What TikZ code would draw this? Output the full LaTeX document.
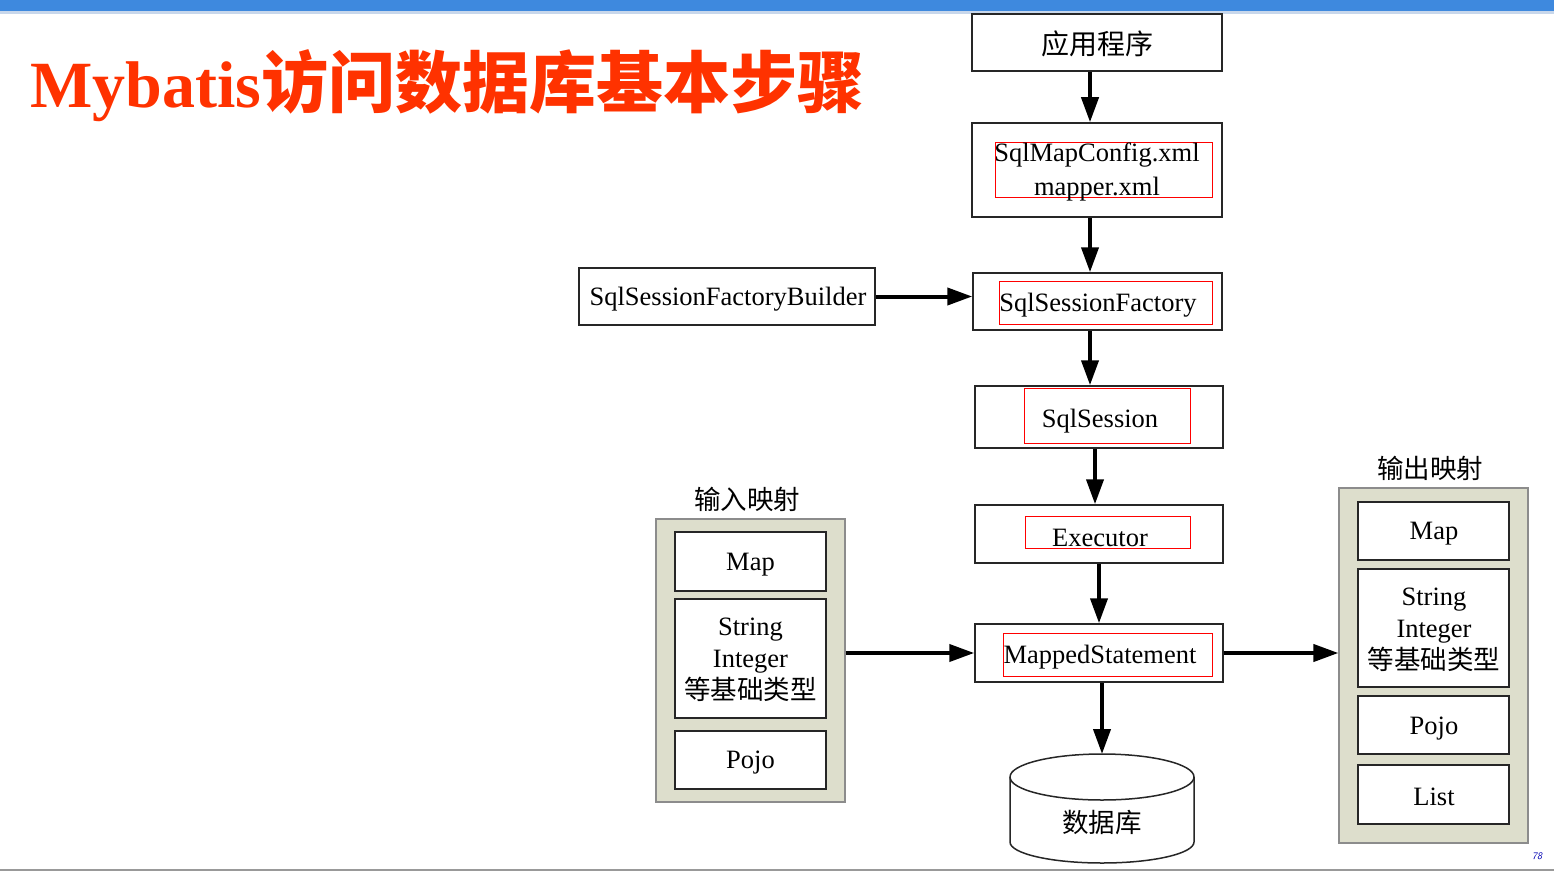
\documentclass[tikz,border=0pt]{standalone}
\usepackage{fontspec}
\setmainfont{Liberation Serif}
\newfontfamily\cjk{Noto Sans CJK SC}
\usetikzlibrary{arrows.meta}
\definecolor{panel}{RGB}{221,222,204}
\definecolor{titlered}{RGB}{255,50,0}
\definecolor{barblue}{RGB}{62,137,222}
\definecolor{barlight}{RGB}{200,215,235}
\begin{document}
\begin{tikzpicture}[x=1pt,y=-1pt,
 box/.style={draw=black!85,line width=1.5pt,fill=white,inner sep=0pt},
 redbox/.style={draw=red,line width=0.9pt},
 lab/.style={font=\fontsize{26.5}{33}\selectfont,align=center,inner sep=0pt},
 panelbox/.style={draw=black!45,line width=1.2pt,fill=panel,inner sep=0pt},
 arr/.style={line width=4pt,-{Triangle[length=25pt,width=17pt]}},
]
\useasboundingbox (0,0) rectangle (1554,872);
% top bar
\fill[barblue] (0,0) rectangle (1554,11);
\fill[barlight] (0,11) rectangle (1554,14);
% bottom line
\draw[black!40,line width=1.5pt] (0,870) -- (1554,870);
% title
\node[anchor=base west,inner sep=0pt,text=titlered] (title) at (30,108)
 {\fontsize{66}{70}\selectfont\bfseries Mybatis{\cjk\fontsize{67}{70}\selectfont 访问数据库基本步骤}};

% main column
\node[box,minimum width=250pt,minimum height=57pt] (app) at (1097,42.5) {};
\node[lab] (appt) at (1097,44) {\fontsize{28}{32}\selectfont\cjk 应用程序};

\node[box,minimum width=250pt,minimum height=94pt] (cfg) at (1097,170) {};
\draw[redbox] (995,142) rectangle (1212,197);
\node[lab,font=\fontsize{26.5}{34}\selectfont] (cfgt) at (1097,172) {SqlMapConfig.xml\\mapper.xml};

\node[box,minimum width=296pt,minimum height=57pt] (builder) at (727,296.5) {};
\node[lab] (buildert) at (728,299) {SqlSessionFactoryBuilder};

\node[box,minimum width=249pt,minimum height=57pt] (factory) at (1097.5,301.5) {};
\draw[redbox] (999,281) rectangle (1212,324);
\node[lab] (factoryt) at (1098,305) {SqlSessionFactory};

\node[box,minimum width=248pt,minimum height=62pt] (session) at (1099,417) {};
\draw[redbox] (1024,388) rectangle (1190,443);
\node[lab] (sessiont) at (1100,421) {SqlSession};

\node[box,minimum width=248pt,minimum height=58pt] (exec) at (1099,534) {};
\draw[redbox] (1025,516) rectangle (1190,548);
\node[lab] (exect) at (1100,538) {Executor};

\node[box,minimum width=248pt,minimum height=58pt] (ms) at (1099,653) {};
\draw[redbox] (1003,633) rectangle (1212,676);
\node[lab] (mst) at (1100,657) {MappedStatement};

% database cylinder
\draw[line width=1.5pt,draw=black!85,fill=white] (1010,777) -- (1010,842)
  arc[start angle=180,end angle=360,x radius=92pt,y radius=21pt] -- (1194,777);
\draw[line width=1.5pt,draw=black!85,fill=white] (1102,777) ellipse[x radius=92pt,y radius=23pt];
\coordinate (dbtop) at (1102,754);
\node[lab] (db) at (1102,822) {\cjk 数据库};

% input panel
\node[panelbox,minimum width=189pt,minimum height=283pt] (inpanel) at (750.5,660.5) {};
\node[lab] (inlab) at (747,499) {\cjk 输入映射};
\node[box,minimum width=151pt,minimum height=59pt] (inmap) at (750.5,561.5) {};
\node[lab] (inmapt) at (750.5,565) {Map};
\node[box,minimum width=151pt,minimum height=119pt] (inbase) at (750.5,658.5) {};
\node[lab,font=\fontsize{26.5}{32}\selectfont] (inbaset) at (750.5,660) {String\\Integer\\{\cjk 等基础类型}};
\node[box,minimum width=151pt,minimum height=58pt] (inpojo) at (750.5,760) {};
\node[lab] (inpojot) at (750.5,763) {Pojo};

% output panel
\node[panelbox,minimum width=189pt,minimum height=355pt] (outpanel) at (1433.5,665.5) {};
\node[lab] (outlab) at (1430,468) {\cjk 输出映射};
\node[box,minimum width=151pt,minimum height=58pt] (outmap) at (1433.5,531) {};
\node[lab] (outmapt) at (1434,534) {Map};
\node[box,minimum width=151pt,minimum height=118pt] (outbase) at (1433.5,628) {};
\node[lab,font=\fontsize{26.5}{32}\selectfont] (outbaset) at (1434,630) {String\\Integer\\{\cjk 等基础类型}};
\node[box,minimum width=151pt,minimum height=58pt] (outpojo) at (1433.5,725) {};
\node[lab] (outpojot) at (1434,729) {Pojo};
\node[box,minimum width=151pt,minimum height=59pt] (outlist) at (1433.5,794.5) {};
\node[lab] (outlistt) at (1434,797) {List};

% page number
\node[text=blue!70!black,font=\fontsize{10}{11}\selectfont\itshape\sffamily] (pg) at (1537,856) {78};

% connectors
\draw[arr] ([xshift=-7pt]app.south) -- ([xshift=-7pt]cfg.north);
\draw[arr] ([xshift=-7pt]cfg.south) -- ([xshift=-7.5pt]factory.north);
\draw[arr] (builder.east) -- (factory.west |- builder.east);
\draw[arr] ([xshift=-7.5pt]factory.south) -- ([xshift=-9pt]session.north);
\draw[arr] ([xshift=-4pt]session.south) -- ([xshift=-4pt]exec.north);
\draw[arr] (exec.south) -- (ms.north);
\draw[arr] ([xshift=3pt]ms.south) -- (dbtop);
\draw[arr] (inpanel.east |- ms.west) -- (ms.west);
\draw[arr] (ms.east) -- (outpanel.west |- ms.east);
\end{tikzpicture}
\end{document}
